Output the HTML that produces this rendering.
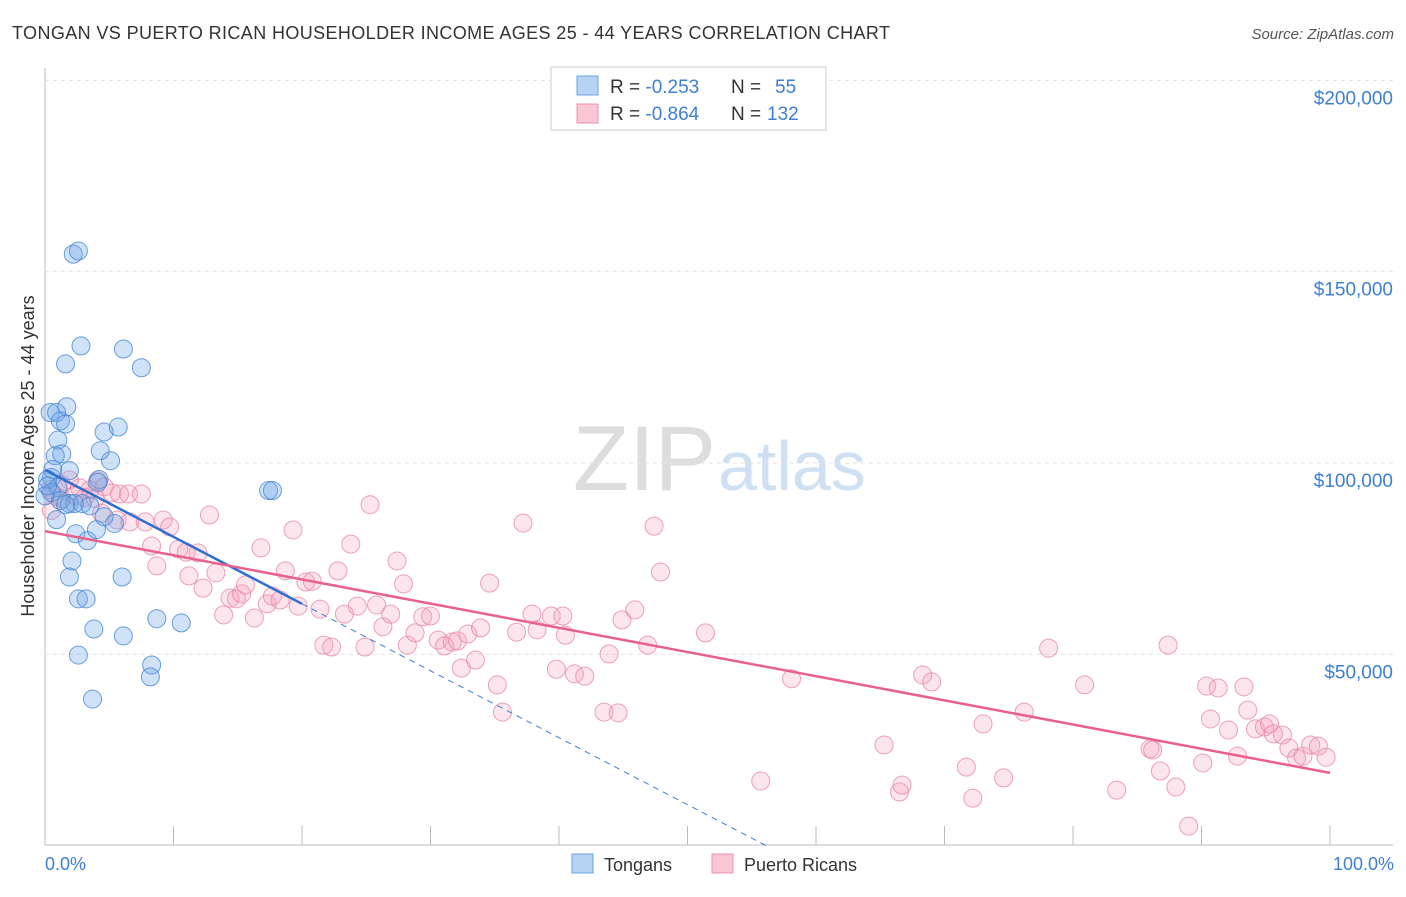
<!DOCTYPE html>
<html><head><meta charset="utf-8"><style>
body{margin:0;background:#fff;font-family:"Liberation Sans",sans-serif;}
svg text{font-family:"Liberation Sans",sans-serif;}
</style></head><body>
<svg id="chart" width="1406" height="892">
<text x="12" y="39" font-size="18" fill="#333" textLength="878">TONGAN VS PUERTO RICAN HOUSEHOLDER INCOME AGES 25 - 44 YEARS CORRELATION CHART</text>
<text x="1394" y="39" font-size="15" fill="#555" font-style="italic" text-anchor="end">Source: ZipAtlas.com</text>
<text x="716" y="490" font-size="92" fill="#ddd" text-anchor="end" font-family="Liberation Serif">ZIP</text>
<text x="718" y="490" font-size="70" fill="#cfe0f3">atlas</text>
<text transform="translate(34,456) rotate(-90)" font-size="18" fill="#333" text-anchor="middle">Householder Income Ages 25 - 44 years</text>
<g id="grid"></g><g id="marks"></g>
<g>
<rect x="551" y="67" width="275" height="63" fill="#fff" stroke="#ccc"/>
<rect x="577" y="76" width="21" height="19" fill="#b7d3f3" stroke="#6aa3e3"/>
<rect x="577" y="104" width="21" height="19" fill="#f9c6d5" stroke="#ec93b0"/>
<text x="610" y="93" font-size="19" fill="#333">R = <tspan fill="#3d7fd6">-0.253</tspan></text>
<text x="731" y="93" font-size="19" fill="#333">N = <tspan x="775" fill="#3d7fd6">55</tspan></text>
<text x="610" y="120" font-size="19" fill="#333">R = <tspan fill="#3d7fd6">-0.864</tspan></text>
<text x="731" y="120" font-size="19" fill="#333">N = <tspan x="767" fill="#3d7fd6">132</tspan></text>
</g>
<g>
<rect x="572" y="854" width="21" height="19" fill="#b7d3f3" stroke="#6aa3e3"/>
<text x="604" y="871" font-size="18" fill="#333">Tongans</text>
<rect x="712" y="854" width="21" height="19" fill="#f9c6d5" stroke="#ec93b0"/>
<text x="744" y="871" font-size="18" fill="#333">Puerto Ricans</text>
</g>
<text x="45" y="870" font-size="18" fill="#3d7fd6">0.0%</text>
<text x="1394" y="870" font-size="18" fill="#3d7fd6" text-anchor="end">100.0%</text>
</svg>
<script>
const yTicks=[50,100,150,200];
const yTickLabels=["$50,000","$100,000","$150,000","$200,000"];
const tonganX=[2.2,2.6,2.8,1.6,6.1,7.5,0.4,0.9,1.7,1.2,1.6,1.0,4.6,5.7,1.3,0.8,1.9,0.6,5.1,4.3,0.5,0.2,1.0,4.2,4.1,17.4,17.7,0.5,1.2,1.9,2.3,2.9,3.5,1.6,0.9,2.4,3.3,4.0,5.4,4.6,2.1,1.9,6.0,2.6,3.2,8.7,10.6,3.8,6.1,2.6,8.3,8.2,3.7,0.0,0.2];
const tonganY=[154.6,155.4,130.6,125.9,129.8,124.9,113.2,113.2,114.7,111.0,110.2,106.0,108.1,109.4,102.4,101.9,98.0,98.3,100.6,103.2,96.2,95.7,93.6,95.7,94.9,92.8,92.8,92.3,90.2,89.4,89.4,89.4,88.8,89.1,85.2,81.5,79.7,82.6,84.2,86.0,74.4,70.2,70.2,64.5,64.5,59.3,58.2,56.6,54.8,49.8,47.2,44.1,38.3,91.4,94.0];
const prX=[0.4,0.8,1.3,1.9,2.7,3.5,4.1,4.6,5.2,5.8,6.5,7.5,0.5,1.3,2.3,3.1,3.9,4.4,5.6,6.6,7.8,9.2,9.7,12.8,8.3,8.7,10.4,11.0,11.9,11.2,12.3,13.3,13.9,14.4,14.9,15.3,15.6,16.3,16.8,17.3,17.7,18.3,18.7,19.3,19.7,20.3,20.8,21.4,21.7,22.3,22.8,23.3,23.8,24.3,24.9,25.3,25.8,26.3,26.9,27.4,27.9,28.2,28.8,29.4,30.0,30.6,31.1,31.7,32.1,32.4,32.9,33.5,33.9,34.6,35.2,35.6,36.7,37.2,37.9,38.3,39.4,39.8,40.3,40.5,41.2,42.0,43.5,43.9,44.6,44.9,45.9,46.9,47.4,47.9,51.4,55.7,58.1,65.3,66.5,66.7,68.3,69.0,71.7,72.2,73.0,74.6,76.2,78.1,80.9,83.4,86.0,86.2,86.8,87.4,88.0,89.0,90.1,90.4,90.7,91.3,92.1,92.8,93.3,93.6,94.2,94.9,95.3,95.6,96.3,96.8,97.4,97.9,98.5,99.1,99.7];
const prY=[93.0,91.4,94.3,95.6,93.5,93.0,95.3,93.8,92.2,91.9,91.9,91.9,87.6,90.7,91.5,91.0,90.7,86.9,85.1,84.6,84.6,85.1,83.3,86.4,78.3,73.1,77.5,76.7,76.5,70.5,67.3,71.3,60.3,64.7,64.5,65.8,68.1,59.5,77.8,63.2,65.2,64.2,71.8,82.5,62.6,68.9,69.1,61.8,52.4,51.9,71.8,60.5,78.8,62.6,51.9,89.1,62.9,57.2,60.5,74.4,68.4,52.4,55.6,59.8,60.0,53.7,52.2,53.2,53.5,46.4,55.3,48.5,56.9,68.6,42.0,34.9,55.8,84.3,60.5,56.4,60.0,46.1,60.0,55.0,44.9,44.3,34.9,50.1,34.7,59.0,61.6,52.4,83.5,71.5,55.6,16.9,43.6,26.3,14.0,15.8,44.6,42.8,20.5,12.4,31.8,17.7,34.9,51.6,42.0,14.5,25.3,25.0,19.5,52.4,15.3,5.1,21.6,41.7,33.1,41.2,30.2,23.4,41.5,35.4,30.5,31.0,31.8,29.2,28.9,25.5,22.9,23.4,26.3,26.0,23.1];
const tonganTrend=[98.2,-1.75];
const prTrend=[82.2,-0.632];
const tonganSolidEnd=20;
const xTicks=[0,10,20,30,40,50,60,70,80,90,100];

const NS="http://www.w3.org/2000/svg";
const X=v=>45+v*12.85;
const Y=v=>845.6-v*3.826;
function mk(tag,attrs,parent){const e=document.createElementNS(NS,tag);for(const k in attrs)e.setAttribute(k,attrs[k]);parent.appendChild(e);return e;}
const grid=document.getElementById('grid'),marks=document.getElementById('marks');
let a=mk('line',{x1:45,y1:68,x2:45,y2:845,stroke:'#bbb'},grid);


a=mk('line',{x1:45,y1:845,x2:1393,y2:845,stroke:'#bbb'},grid);


yTicks.forEach((t,i)=>{
 const g=mk('line',{x1:45,y1:Y(t),x2:1393,y2:Y(t),stroke:'#e2e2e2','stroke-dasharray':'4,4'},grid);
 
 
 const l=mk('text',{x:1393,y:Y(t)+24,'font-size':19,fill:'#3d7fd6','text-anchor':'end'},grid);
 l.textContent=yTickLabels[i];
 
 
});
xTicks.forEach(t=>{
 const k=mk('line',{x1:X(t),y1:826,x2:X(t),y2:845,stroke:'#bbb'},grid);
 
 
});
function dots(xs,ys,fill,stroke,name){
 xs.forEach((x,i)=>{
  const c=mk('circle',{cx:X(x),cy:Y(ys[i]),r:9,fill:fill,stroke:stroke,'stroke-width':1},marks);
  
  
 });
}
dots(prX,prY,'rgba(244,160,188,0.28)','rgba(232,130,165,0.75)','puerto-rican-point');
dots(tonganX,tonganY,'rgba(110,165,230,0.32)','rgba(70,135,215,0.8)','tongan-point');
const zeroX=-tonganTrend[0]/tonganTrend[1];
let t=mk('line',{x1:X(tonganSolidEnd),y1:Y(tonganTrend[0]+tonganTrend[1]*tonganSolidEnd),x2:X(zeroX),y2:Y(0),stroke:'#3d7fd6','stroke-width':1,'stroke-dasharray':'6,5'},marks);


t=mk('line',{x1:X(0),y1:Y(tonganTrend[0]),x2:X(tonganSolidEnd),y2:Y(tonganTrend[0]+tonganTrend[1]*tonganSolidEnd),stroke:'#2f6fd0','stroke-width':2.5},marks);


t=mk('line',{x1:X(0),y1:Y(prTrend[0]),x2:X(100),y2:Y(prTrend[0]+prTrend[1]*100),stroke:'#e8608c','stroke-width':2.5},marks);


</script>
</body></html>
